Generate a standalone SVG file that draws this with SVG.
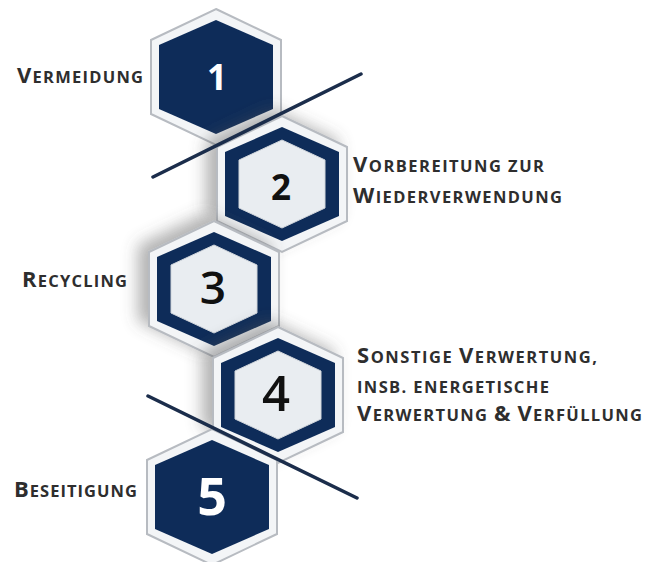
<svg xmlns="http://www.w3.org/2000/svg" width="658" height="562" viewBox="0 0 658 562">
<defs>
<polygon id="outer" points="0,-68 65,-37 65,37 0,68 -65,37 -65,-37"/>
<polygon id="dark" points="0,-57 57,-32 57,32 0,57 -57,32 -57,-32"/>
<polygon id="inner" points="0,-44 43,-24 43,24 0,44 -43,24 -43,-24"/>
<filter id="sh" x="-40%" y="-40%" width="180%" height="180%">
<feGaussianBlur in="SourceAlpha" stdDeviation="8"/>
<feOffset dx="-10" dy="-6" result="b"/>
<feFlood flood-color="#555" flood-opacity="0.45"/>
<feComposite in2="b" operator="in"/>
<feMerge><feMergeNode/><feMergeNode in="SourceGraphic"/></feMerge>
</filter>
</defs>
<style>
.o{fill:#f3f5f7;stroke:#b7bbc1;stroke-width:2}
.d{fill:#0e2c59}
.i{fill:#e9edf1;stroke:#d0d5db;stroke-width:1}
.lbl{font-family:"Open Sans","Liberation Sans",sans-serif;font-weight:700;fill:#2e2e2e;font-size:16.5px}
.big{font-size:22px}
.num{font-family:"Open Sans","Liberation Sans",sans-serif;text-anchor:middle}
.cn{stroke:#1b2d4b;stroke-width:3.5;stroke-linecap:round}
</style>
<rect width="658" height="562" fill="#ffffff"/>
<g id="hex1" transform="translate(216,77)">
<use href="#outer" class="o"/>
<use href="#dark" class="d"/>
<text class="num" x="1" y="13" font-size="35" font-weight="700" fill="#ffffff">1</text>
</g>
<g id="hex2" transform="translate(282,184)">
<use href="#outer" class="o" filter="url(#sh)"/>
<use href="#dark" class="d"/>
<use href="#inner" class="i"/>
<text class="num" x="-1" y="16" font-size="35" font-weight="700" fill="#111">2</text>
</g>
<g id="hex3" transform="translate(214,289)">
<use href="#outer" class="o" filter="url(#sh)"/>
<use href="#dark" class="d"/>
<use href="#inner" class="i"/>
<text class="num" x="-1" y="15" font-size="46" font-weight="600" fill="#111">3</text>
</g>
<g id="hex4" transform="translate(278,395)">
<use href="#outer" class="o" filter="url(#sh)"/>
<use href="#dark" class="d"/>
<use href="#inner" class="i"/>
<text class="num" x="-2" y="16" font-size="49" font-weight="600" fill="#111">4</text>
</g>
<g id="hex5" transform="translate(212,497)">
<use href="#outer" class="o"/>
<use href="#dark" class="d"/>
<text class="num" x="0" y="18" font-size="52" font-weight="700" fill="#ffffff">5</text>
</g>
<g id="connectors">
<line class="cn" x1="153" y1="177" x2="361" y2="74"/>
<line class="cn" x1="148" y1="396" x2="357" y2="498"/>
</g>
<g id="labels">
<text class="lbl" x="17" y="83" textLength="126" lengthAdjust="spacing"><tspan class="big">V</tspan>ERMEIDUNG</text>
<text class="lbl" x="353" y="172" textLength="191" lengthAdjust="spacing"><tspan class="big">V</tspan>ORBEREITUNG ZUR</text>
<text class="lbl" x="353" y="203" textLength="209" lengthAdjust="spacing"><tspan class="big">W</tspan>IEDERVERWENDUNG</text>
<text class="lbl" x="22" y="287" textLength="105" lengthAdjust="spacing"><tspan class="big">R</tspan>ECYCLING</text>
<text class="lbl" x="357" y="363" textLength="240" lengthAdjust="spacing"><tspan class="big">S</tspan>ONSTIGE <tspan class="big">V</tspan>ERWERTUNG,</text>
<text class="lbl" x="357" y="393" textLength="192" lengthAdjust="spacing">INSB. ENERGETISCHE</text>
<text class="lbl" x="357" y="421" textLength="285" lengthAdjust="spacing"><tspan class="big">V</tspan>ERWERTUNG <tspan class="big">&amp;</tspan> <tspan class="big">V</tspan>ERFÜLLUNG</text>
<text class="lbl" x="14" y="497" textLength="123" lengthAdjust="spacing"><tspan class="big">B</tspan>ESEITIGUNG</text>
</g>
</svg>
